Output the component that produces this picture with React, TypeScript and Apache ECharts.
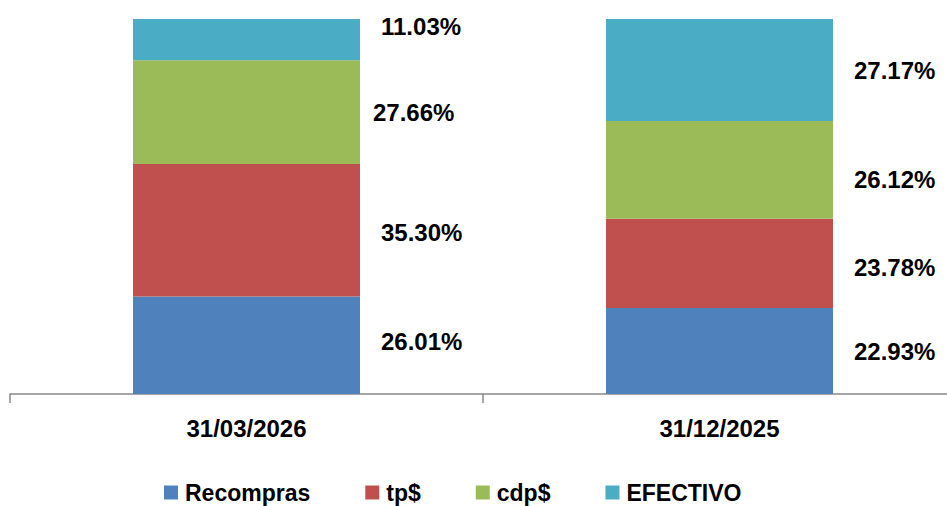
import React, { useEffect, useRef } from "react";
import * as echarts from "echarts";

const categories = ["31/03/2026", "31/12/2025"];
const seriesNames = ["Recompras", "tp$", "cdp$", "EFECTIVO"];
const recompras = [26.01, 22.93];
const tp = [35.3, 23.78];
const cdp = [27.66, 26.12];
const efectivo = [11.03, 27.17];
const colors = ["#4F81BD", "#C0504D", "#9BBB59", "#4BACC6"];

// label nudges [dx, dy] per series per category (to match reference placement)
const labelNudges: number[][][] = [
  [[0, -4], [0, 0]],
  [[0, 2], [0, 4]],
  [[-8, 0], [0, 10]],
  [[0, -13], [0, 1]],
];

const FONT = "'Liberation Sans', Arial, sans-serif";

export default function App() {
  const ref = useRef<HTMLDivElement>(null);
  useEffect(() => {
    if (!ref.current) return;
    const chart = echarts.init(ref.current, undefined, { renderer: "svg" });
    const values = [recompras, tp, cdp, efectivo];
    chart.setOption({
      animation: false,
      textStyle: { fontFamily: FONT },
      grid: { left: 10, right: 0, top: 19, bottom: 112, containLabel: false },
      legend: {
        top: 481,
        left: 164,
        padding: 0,
        itemWidth: 14,
        itemHeight: 14,
        itemGap: 55,
        icon: "rect",
        data: seriesNames,
        textStyle: {
          fontFamily: FONT,
          fontWeight: "bold",
          fontSize: 23,
          color: "#000",
          padding: [0, 0, 0, 2],
        },
      },
      xAxis: {
        type: "category",
        data: categories,
        axisLine: { show: true, lineStyle: { color: "#888", width: 1.5 } },
        axisTick: { show: true, length: 9, lineStyle: { color: "#888", width: 1.5 } },
        axisLabel: {
          margin: 22,
          fontFamily: FONT,
          fontWeight: "bold",
          fontSize: 24,
          color: "#000",
        },
      },
      yAxis: {
        type: "value",
        min: 0,
        max: 100,
        show: false,
        splitLine: { show: false },
      },
      series: values.map((vals, si) => ({
        name: seriesNames[si],
        type: "bar",
        stack: "total",
        barWidth: 227,
        itemStyle: { color: colors[si] },
        label: {
          show: true,
          position: "right",
          distance: 21,
          fontFamily: FONT,
          fontWeight: "bold",
          fontSize: 24,
          color: "#000",
          formatter: (p: any) => Number(p.value).toFixed(2) + "%",
        },
        data: vals.map((v, ci) => ({
          value: v,
          label: { offset: labelNudges[si][ci] },
        })),
      })),
    });
    return () => chart.dispose();
  }, []);
  return (
    <div
      style={{
        position: "absolute",
        left: 0,
        top: 0,
        width: 947,
        height: 506,
        overflow: "hidden",
      }}
    >
      <div ref={ref} style={{ width: 956, height: 506 }} />
    </div>
  );
}
